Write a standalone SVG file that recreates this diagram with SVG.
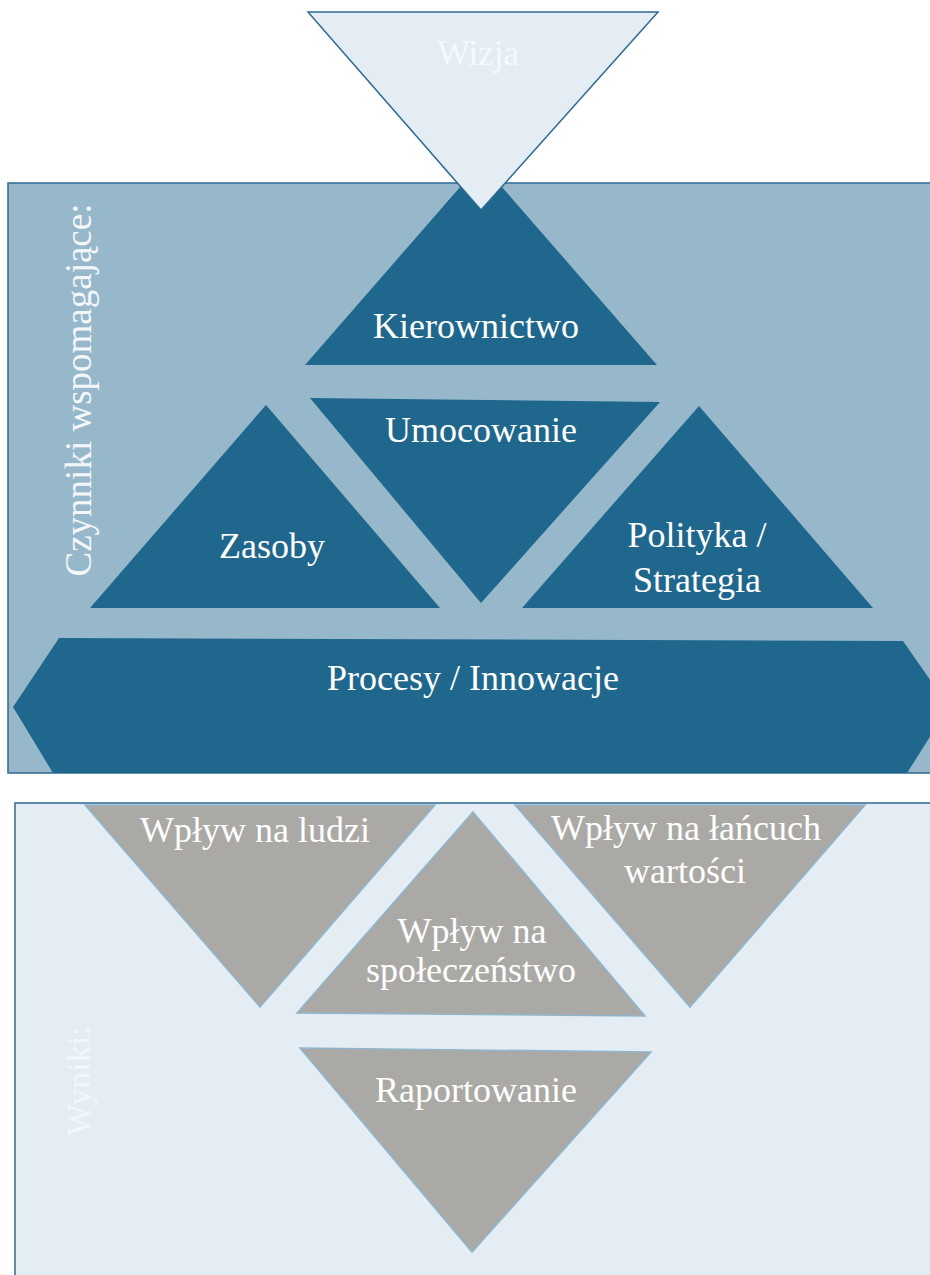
<svg xmlns="http://www.w3.org/2000/svg" width="930" height="1275" viewBox="0 0 930 1275">
<style>
.lbl{font-family:'Liberation Serif','DejaVu Serif',serif;font-size:36px;fill:#ffffff;text-anchor:middle}
.dark{fill:#1f678d}
.gray{fill:#aba9a6;stroke:#8fb6cf;stroke-width:1.5}
.panel{stroke:#2e6a92;stroke-width:1.5}
</style>
<rect width="930" height="1275" fill="#ffffff"/>
<g id="panel-czynniki">
<rect class="panel" x="8" y="183" width="940" height="590" fill="#97b8cb"/>
<text class="lbl" transform="translate(91,390) rotate(-90)" style="font-size:37px;fill:#f4f7f9">Czynniki wspomagające:</text>
</g>
<g id="node-kierownictwo">
<polygon class="dark" points="481,163 657,365 305,365"/>
<text class="lbl" x="476" y="338">Kierownictwo</text>
</g>
<g id="node-wizja">
<polygon points="308,12 658,12 481,210" fill="#e4edf3" stroke="#2e6a92" stroke-width="1.5"/>
<text class="lbl" x="478" y="65" style="font-size:35px;fill:#f7f9fb">Wizja</text>
</g>
<g id="node-umocowanie">
<polygon class="dark" points="310,398 660,402 481,603"/>
<text class="lbl" x="481" y="442">Umocowanie</text>
</g>
<g id="node-zasoby">
<polygon class="dark" points="266,405 440,608 90,608"/>
<text class="lbl" x="272" y="558">Zasoby</text>
</g>
<g id="node-polityka">
<polygon class="dark" points="699,406 873,608 522,608"/>
<text class="lbl" x="697" y="547">Polityka /</text>
<text class="lbl" x="697" y="592">Strategia</text>
</g>
<g id="node-procesy">
<polygon class="dark" points="59,638 903,641 949,707 907,773 53,773 13,707"/>
<text class="lbl" x="473" y="690">Procesy / Innowacje</text>
</g>
<g id="panel-wyniki">
<rect class="panel" x="15" y="803" width="940" height="490" fill="#e4edf3"/>
<text class="lbl" transform="translate(90,1081) rotate(-90)" style="font-size:34px;fill:#f3f7fa">Wyniki:</text>
</g>
<g id="node-ludzi">
<polygon class="gray" points="85,805 435,805 260,1007"/>
<text class="lbl" x="255" y="842">Wpływ na ludzi</text>
</g>
<g id="node-lancuch">
<polygon class="gray" points="515,805 865,805 690,1007"/>
<text class="lbl" x="686" y="840">Wpływ na łańcuch</text>
<text class="lbl" x="685" y="883">wartości</text>
</g>
<g id="node-spoleczenstwo">
<polygon class="gray" points="473,812 645,1016 297,1013"/>
<text class="lbl" x="472" y="943">Wpływ na</text>
<text class="lbl" x="471" y="982">społeczeństwo</text>
</g>
<g id="node-raportowanie">
<polygon class="gray" points="300,1048 651,1052 472,1252"/>
<text class="lbl" x="476" y="1102">Raportowanie</text>
</g>
<g id="connectors"/>
</svg>
